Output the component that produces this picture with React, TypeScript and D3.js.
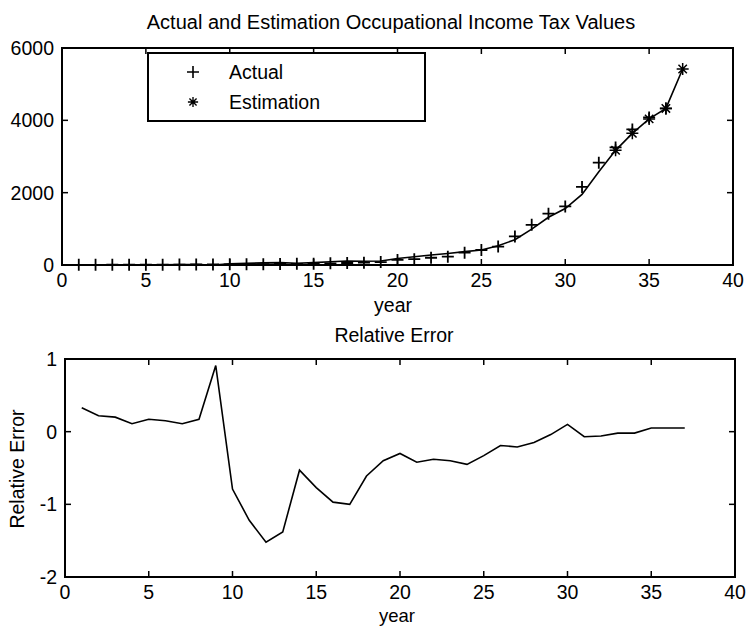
import React from "react";
import * as d3 from "d3";

const years = [1,2,3,4,5,6,7,8,9,10,11,12,13,14,15,16,17,18,19,20,21,22,23,24,25,26,27,28,29,30,31,32,33,34,35,36,37];
const actualYears = [1,2,3,4,5,6,7,8,9,10,11,12,13,14,15,16,17,18,19,20,21,22,23,24,25,26,27,28,29,30,31,32,33,34,35,36];
const actual = [5,6,7,8,9,10,12,14,16,18,20,24,28,32,38,45,55,65,80,140,160,200,230,340,415,510,790,1110,1420,1620,2160,2830,3250,3750,4080,4330];
const estimation = [3,5,6,7,8,9,11,12,2,32,44,60,66,49,67,89,110,105,112,180,230,275,320,370,415,530,700,990,1320,1560,1950,2580,3170,3640,4040,4330,5420];
const starYears = [33,34,35,36,37];
const relErr = [0.33,0.22,0.20,0.11,0.17,0.15,0.11,0.17,0.91,-0.79,-1.22,-1.52,-1.38,-0.53,-0.77,-0.97,-1.0,-0.61,-0.40,-0.30,-0.42,-0.38,-0.40,-0.45,-0.33,-0.19,-0.21,-0.15,-0.04,0.10,-0.07,-0.06,-0.02,-0.02,0.05,0.05,0.05];

const xTicks = [0,5,10,15,20,25,30,35,40];
const topYTicks = [0,2000,4000,6000];
const botYTicks = [-2,-1,0,1];

const FONT = "'Liberation Sans', Arial, Helvetica, sans-serif";
const FS = 19.5;
const TL = 6;

function Axes({ x, y, yTicks, fmt }) {
  const [x0, x1] = x.range();
  const [y0, y1] = y.range(); // y0 bottom, y1 top
  return (
    <g>
      <rect x={x0} y={y1} width={x1 - x0} height={y0 - y1} fill="none" stroke="#000" strokeWidth={2} />
      {xTicks.map((t) => (
        <g key={"x" + t}>
          <line x1={x(t)} x2={x(t)} y1={y0} y2={y0 - TL} stroke="#000" strokeWidth={1.5} />
          <line x1={x(t)} x2={x(t)} y1={y1} y2={y1 + TL} stroke="#000" strokeWidth={1.5} />
          <text x={x(t)} y={y0 + 22} textAnchor="middle" fontSize={FS} fontFamily={FONT}>{t}</text>
        </g>
      ))}
      {yTicks.map((t) => (
        <g key={"y" + t}>
          <line x1={x0} x2={x0 + TL} y1={y(t)} y2={y(t)} stroke="#000" strokeWidth={1.5} />
          <line x1={x1} x2={x1 - TL} y1={y(t)} y2={y(t)} stroke="#000" strokeWidth={1.5} />
          <text x={x0 - 8} y={y(t) + 7} textAnchor="end" fontSize={FS} fontFamily={FONT}>{fmt(t)}</text>
        </g>
      ))}
    </g>
  );
}

const plusPath = "M-6,0H6M0,-6V6";
const starPath = "M-6,0H6M0,-6V6M-4.2,-4.2L4.2,4.2M-4.2,4.2L4.2,-4.2";

export default function App() {
  const xTop = d3.scaleLinear().domain([0, 40]).range([62, 733]);
  const yTop = d3.scaleLinear().domain([0, 6000]).range([265, 48]);
  const xBot = d3.scaleLinear().domain([0, 40]).range([65, 735]);
  const yBot = d3.scaleLinear().domain([-2, 1]).range([577, 359]);

  const estLine = d3.line().x((d, i) => xTop(years[i])).y((d) => yTop(d))(estimation);
  const errLine = d3.line().x((d, i) => xBot(years[i])).y((d) => yBot(d))(relErr);

  return (
    <svg width={746} height={628} style={{ position: "absolute", left: 0, top: 0, background: "#fff" }}>
      <rect x={0} y={0} width={746} height={628} fill="#fff" />
      {/* Top chart */}
      <text x={391} y={29} textAnchor="middle" fontSize={20} fontFamily={FONT}>Actual and Estimation Occupational Income Tax Values</text>
      <Axes x={xTop} y={yTop} yTicks={topYTicks} fmt={(t) => String(t)} />
      <path d={estLine} fill="none" stroke="#000" strokeWidth={1.6} />
      {actual.map((v, i) => (
        <path key={"a" + i} d={plusPath} transform={`translate(${xTop(actualYears[i])},${yTop(v)})`} stroke="#000" strokeWidth={1.8} fill="none" />
      ))}
      {starYears.map((yr) => (
        <path key={"e" + yr} d={starPath} transform={`translate(${xTop(yr)},${yTop(estimation[years.indexOf(yr)])})`} stroke="#000" strokeWidth={1.5} fill="none" />
      ))}
      <g>
        <rect x={148} y={53} width={277} height={68} fill="#fff" stroke="#000" strokeWidth={2} />
        <path d={plusPath} transform="translate(193,72)" stroke="#000" strokeWidth={1.6} fill="none" />
        <text x={229} y={79} fontSize={FS} fontFamily={FONT}>Actual</text>
        <path d={starPath} transform="translate(193,102) scale(0.85)" stroke="#000" strokeWidth={1.6} fill="none" />
        <text x={229} y={109} fontSize={FS} fontFamily={FONT}>Estimation</text>
      </g>
      <text x={393} y={312} textAnchor="middle" fontSize={FS} fontFamily={FONT}>year</text>

      {/* Bottom chart */}
      <text x={394} y={342} textAnchor="middle" fontSize={FS} fontFamily={FONT}>Relative Error</text>
      <Axes x={xBot} y={yBot} yTicks={botYTicks} fmt={(t) => String(t)} />
      <path d={errLine} fill="none" stroke="#000" strokeWidth={1.6} />
      <text x={397} y={622} textAnchor="middle" fontSize={18.5} fontFamily={FONT}>year</text>
      <text transform="translate(24,469) rotate(-90)" textAnchor="middle" fontSize={FS} fontFamily={FONT}>Relative Error</text>
    </svg>
  );
}
